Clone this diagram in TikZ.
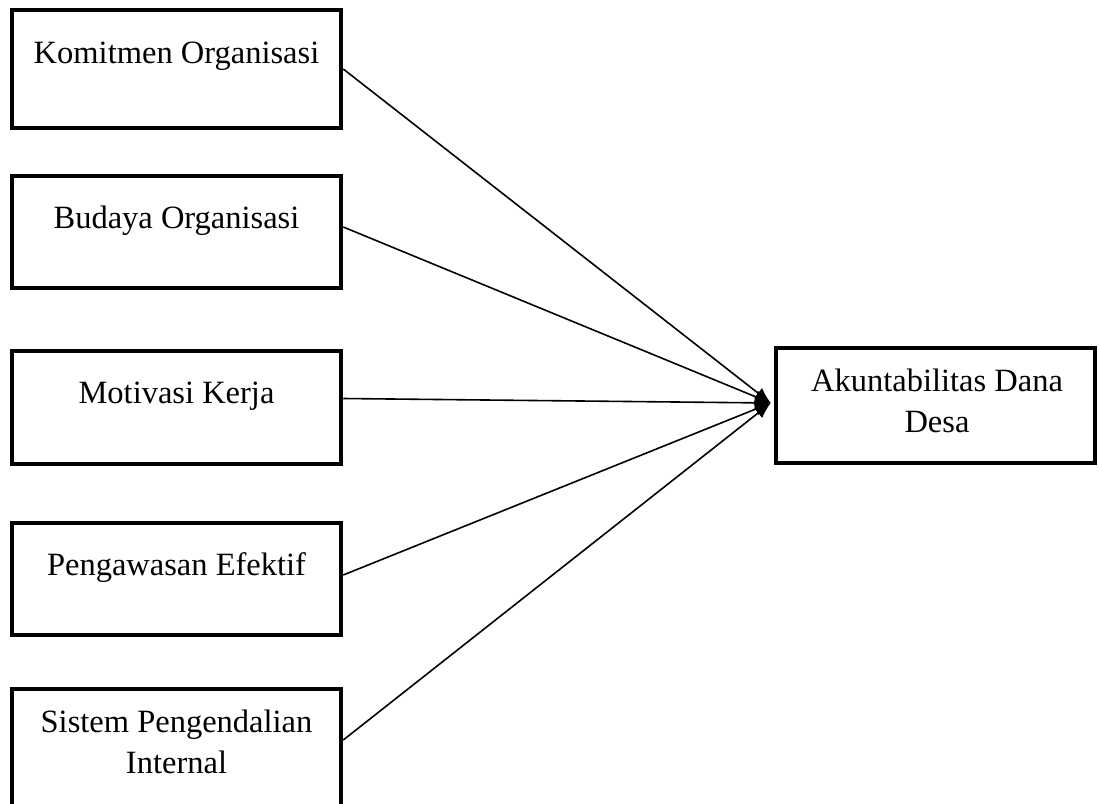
\documentclass[tikz,border=0pt]{standalone}
\usepackage{fontspec}
\setmainfont{Liberation Serif}
\usetikzlibrary{arrows.meta,calc}
\begin{document}
\begin{tikzpicture}[x=1pt,y=-1pt,
  boxstyle/.style={draw=black,line width=4.5pt,rectangle,inner sep=0pt},
  txt/.style={anchor=base,inner sep=0pt,font=\fontsize{32.5}{41}\selectfont},
  conn/.style={draw=black,line width=1.6pt,-{Latex[length=16pt,width=13pt]}}]
\useasboundingbox (0,0) rectangle (1099,803);
% boxes
\node[boxstyle,minimum width=329pt,minimum height=118pt] (b1) at (176.5,69) {};
\node[boxstyle,minimum width=329pt,minimum height=112pt] (b2) at (176.5,232) {};
\node[boxstyle,minimum width=329pt,minimum height=113pt] (b3) at (176.5,407.5) {};
\node[boxstyle,minimum width=329pt,minimum height=112pt] (b4) at (176.5,579) {};
\node[boxstyle,minimum width=329pt,minimum height=117pt] (b5) at (176.5,747.5) {};
\node[boxstyle,minimum width=319pt,minimum height=115pt] (out) at (935.5,405.5) {};
% texts
\node[txt] (t1) at (176.5,63) {Komitmen Organisasi};
\node[txt] (t2) at (176.5,228) {Budaya Organisasi};
\node[txt] (t3) at (176.5,403) {Motivasi Kerja};
\node[txt] (t4) at (176.5,575) {Pengawasan Efektif};
\node[txt] (t5a) at (176.5,732) {Sistem Pengendalian};
\node[txt] (t5b) at (176.5,773) {Internal};
\node[txt] (to1) at (937,391) {Akuntabilitas Dana};
\node[txt] (to2) at (937,432) {Desa};
% target
\coordinate (tip) at ($(out.west)+(-3,-2.5)$);
% connectors
\draw[conn] (b1.east) -- (tip);
\draw[conn] ($(b2.east)+(0,-5)$) -- (tip);
\draw[conn] ($(b3.east)+(0,-9)$) -- (tip);
\draw[conn] ($(b4.east)+(0,-4)$) -- (tip);
\draw[conn] ($(b5.east)+(0,-7.5)$) -- (tip);
\end{tikzpicture}
\end{document}
